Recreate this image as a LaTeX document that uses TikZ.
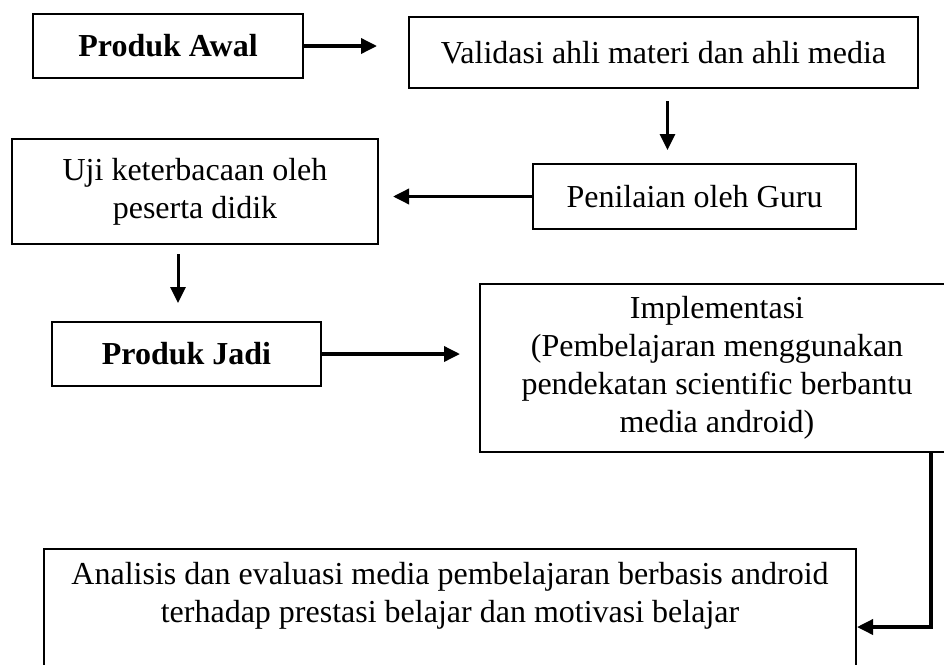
\documentclass[tikz,border=0pt]{standalone}
\usepackage{fontspec}
\setmainfont{Liberation Serif}
\usetikzlibrary{arrows.meta,positioning,calc}

\begin{document}
\begin{tikzpicture}[
    x=1pt, y=-1pt,
    font=\fontsize{32}{38}\selectfont,
    % node styles
    stepbox/.style  = {draw, line width=2pt, align=center, anchor=north west,
                        inner sep=2pt},
    boldbox/.style  = {stepbox, font=\fontsize{32}{38}\selectfont\bfseries},
    % edges
    flow/.style     = {-{Triangle[length=16pt, width=15pt]}, line width=3.5pt},
    thinflow/.style = {-{Triangle[length=16pt, width=15pt]}, line width=3pt}
  ]
\useasboundingbox (0,0) rectangle (944,664);

% ============================================================
% Boxes
% ============================================================
\node[boldbox, minimum width=270pt, minimum height=64pt] (awal) at (32,13)
  {Produk Awal};
\node[stepbox, minimum width=509pt, minimum height=71pt] (validasi) at (408,16)
  {Validasi ahli materi dan ahli media};
\node[stepbox, minimum width=323pt, minimum height=65pt] (penilaian) at (532,163)
  {Penilaian oleh Guru};
\node[stepbox, minimum width=366pt, minimum height=105pt] (uji) at (11,138)
  {Uji keterbacaan oleh\\ peserta didik};
\node[boldbox, minimum width=269pt, minimum height=64pt] (jadi) at (51,321)
  {Produk Jadi};
\node[stepbox, minimum width=474pt, minimum height=168pt] (impl) at (479,283)
  {Implementasi\\ (Pembelajaran menggunakan\\ pendekatan scientific berbantu\\ media android)};
\node[stepbox, minimum width=812pt, minimum height=136pt] (analisis) at (43,548)
  {Analisis dan evaluasi media pembelajaran berbasis android\\
   terhadap prestasi belajar dan motivasi belajar\\ \strut};

% ============================================================
% Arrows
% ============================================================
\coordinate (bend) at (931,627);

\draw[flow, shorten >=31pt] (awal.east) -- (awal.east -| validasi.west);
\draw[thinflow, shorten <=12pt, shorten >=13pt]
  ([xshift=4pt]validasi.south) -- ([xshift=4pt]validasi.south |- penilaian.north);
\draw[flow, shorten >=14pt] (penilaian.west) -- (penilaian.west -| uji.east);
\draw[thinflow, shorten <=9pt, shorten >=18pt]
  ([xshift=-17pt]uji.south) -- ([xshift=-17pt]uji.south |- jadi.north);
\draw[flow, shorten >=19pt] (jadi.east) -- (jadi.east -| impl.west);
\draw[flow] (impl.south -| bend) -- (bend) -- (bend -| analisis.east);

\end{tikzpicture}
\end{document}
